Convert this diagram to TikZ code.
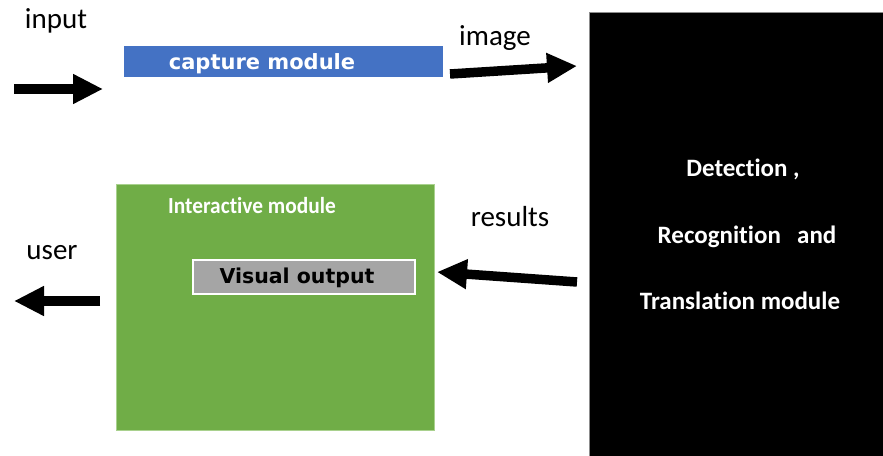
\documentclass[tikz,border=0pt]{standalone}
\usepackage{fontspec}
\setmainfont{Carlito}[Ligatures=NoCommon]
\newfontfamily\boxfont{DejaVu Sans}
\usetikzlibrary{arrows.meta}
\definecolor{capblue}{HTML}{4472C4}
\definecolor{intgreen}{HTML}{70AD47}
\definecolor{intedge}{HTML}{A9D18E}
\definecolor{outgray}{HTML}{A5A5A5}
\begin{document}
\begin{tikzpicture}[x=1pt,y=-1pt,
  blockarrow/.style={line width=9.5pt,-{Triangle[length=30pt,width=28pt]}},
  plainlabel/.style={font=\fontsize{29}{31}\selectfont,inner sep=0pt,anchor=center},
  detline/.style={font=\fontsize{25}{27}\selectfont\bfseries,text=white,inner sep=0pt,anchor=center}]
  \useasboundingbox (0,0) rectangle (883,455);
  \fill[white] (0,0) rectangle (883,455);

  % capture module
  \node[fill=capblue,minimum width=319pt,minimum height=31pt,inner sep=0pt,anchor=north west]
    (capture) at (124,46) {};
  \node[text=white,font=\boxfont\fontsize{21}{23}\selectfont\bfseries,inner sep=0pt]
    (capturetxt) at (262,63.5) {capture module};

  % detection / recognition / translation module
  \node[fill=black,draw=black!45,line width=0.6pt,minimum width=300pt,minimum height=450pt,
    inner sep=0pt,anchor=north west] (detect) at (589,12) {};
  \node[detline] (d1) at (743,169) {Detection ,};
  \node[detline] (d2) at (747,237) {Recognition\hspace{0.65em}and};
  \node[detline] (d3) at (740,301) {Translation module};

  % interactive module
  \node[fill=intgreen,draw=intedge,line width=0.8pt,minimum width=318pt,minimum height=246pt,
    inner sep=0pt,anchor=north west] (interact) at (116,184) {};
  \node[text=white,font=\fontsize{23}{25}\selectfont\bfseries,inner sep=0pt,xscale=0.93]
    (interacttxt) at (252,206) {Interactive module};
  \node[fill=outgray,draw=white,line width=2pt,minimum width=222pt,minimum height=34pt,
    inner sep=0pt,anchor=north west] (visual) at (192,259) {};
  \node[text=black,font=\boxfont\fontsize{20.5}{22}\selectfont\bfseries,inner sep=0pt]
    (visualtxt) at (297,277.5) {Visual output};

  % labels
  \node[plainlabel] (input) at (56,21) {input};
  \node[plainlabel] (image) at (495,38) {image};
  \node[plainlabel] (results) at (510,217) {results};
  \node[plainlabel] (user) at (52,253) {user};

  % arrow end points
  \coordinate (inA) at (14,89);
  \coordinate (inB) at (103,89);
  \coordinate (imA) at (450,74);
  \coordinate (imB) at (577,66);
  \coordinate (reA) at (577,282);
  \coordinate (reB) at (437,272);
  \coordinate (usA) at (100,301);
  \coordinate (usB) at (14,301);

  \draw[blockarrow] (inA) -- (inB);
  \draw[blockarrow] (imA) -- (imB);
  \draw[blockarrow] (reA) -- (reB);
  \draw[blockarrow] (usA) -- (usB);
\end{tikzpicture}
\end{document}
